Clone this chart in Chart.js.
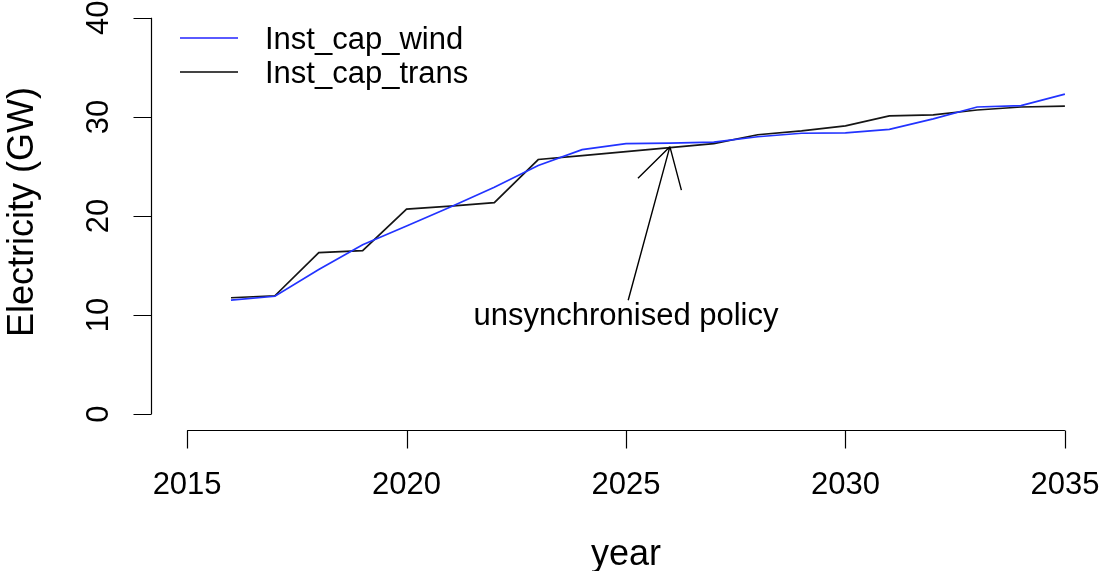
<!DOCTYPE html>
<html>
<head>
<meta charset="utf-8">
<title>Installed capacity: wind vs transmission</title>
<script src="https://cdn.jsdelivr.net/npm/chart.js@4.4.1/dist/chart.umd.min.js"></script>
<style>
  html, body { margin: 0; padding: 0; background: #ffffff; }
  #wrap { width: 1100px; height: 571px; }
</style>
</head>
<body>
<div id="wrap"><canvas id="chart" width="1100" height="571"></canvas></div>
<script>
// Years on the horizontal axis
const years = [2016, 2017, 2018, 2019, 2020, 2021, 2022, 2023, 2024, 2025,
               2026, 2027, 2028, 2029, 2030, 2031, 2032, 2033, 2034, 2035];

// Installed wind capacity (GW)
const instCapWind = [11.5, 11.9, 14.6, 17.1, 19.0, 20.9, 22.9, 25.1, 26.7, 27.3,
                     27.35, 27.45, 28.0, 28.35, 28.4, 28.75, 29.8, 31.0, 31.15, 32.3];

// Installed transmission capacity (GW)
const instCapTrans = [11.75, 11.95, 16.3, 16.5, 20.7, 21.0, 21.35, 25.7, 26.1, 26.5,
                      26.9, 27.3, 28.2, 28.6, 29.1, 30.1, 30.2, 30.7, 31.0, 31.1];

// Axis ticks
const xTicks = [2015, 2020, 2025, 2030, 2035];
const yTicks = [0, 10, 20, 30, 40];

// Series names
const seriesNames = ['Inst_cap_wind', 'Inst_cap_trans'];

// Annotation: label position and arrow (tail -> head) in data units
const noteText = 'unsynchronised policy';
const notePos = [2025, 10];
const arrowFrom = [2025.05, 11.5];
const arrowTo = [2026, 27.0];

const WIND_COLOR = '#2233ff';
const TRANS_COLOR = '#151515';
const FONT = '"Liberation Sans", Arial, Helvetica, sans-serif';

function toPoints(xs, ys) {
  return xs.map((x, i) => ({ x: x, y: ys[i] }));
}

// Base-graphics style axes, labels, legend and annotation
const baseStylePlugin = {
  id: 'baseStyle',
  afterDatasetsDraw(chart) {
    const ctx = chart.ctx;
    const xs = chart.scales.x;
    const ys = chart.scales.y;
    const area = chart.chartArea;

    ctx.save();
    ctx.strokeStyle = '#000000';
    ctx.fillStyle = '#000000';
    ctx.lineWidth = 1.2;

    // x axis
    const xAxisY = Math.round(area.bottom) + 0.5;
    const x0 = xs.getPixelForValue(xTicks[0]);
    const x1 = xs.getPixelForValue(xTicks[xTicks.length - 1]);
    ctx.beginPath();
    ctx.moveTo(x0, xAxisY);
    ctx.lineTo(x1, xAxisY);
    xTicks.forEach(t => {
      const px = Math.round(xs.getPixelForValue(t)) + 0.5;
      ctx.moveTo(px, xAxisY);
      ctx.lineTo(px, xAxisY + 18);
    });
    ctx.stroke();

    ctx.font = '31px ' + FONT;
    ctx.textAlign = 'center';
    ctx.textBaseline = 'alphabetic';
    xTicks.forEach(t => {
      ctx.fillText(String(t), xs.getPixelForValue(t), 494);
    });

    // y axis
    const yAxisX = Math.round(area.left) - 0.5;
    const yb = ys.getPixelForValue(yTicks[0]);
    const yt = ys.getPixelForValue(yTicks[yTicks.length - 1]);
    ctx.beginPath();
    ctx.moveTo(yAxisX, yb);
    ctx.lineTo(yAxisX, yt);
    yTicks.forEach(t => {
      const py = Math.round(ys.getPixelForValue(t)) + 0.5;
      ctx.moveTo(yAxisX, py);
      ctx.lineTo(yAxisX - 18, py);
    });
    ctx.stroke();

    yTicks.forEach(t => {
      ctx.save();
      ctx.translate(108, ys.getPixelForValue(t));
      ctx.rotate(-Math.PI / 2);
      ctx.textAlign = 'center';
      ctx.fillText(String(t), 0, 0);
      ctx.restore();
    });

    // axis titles
    ctx.font = '36px ' + FONT;
    ctx.textAlign = 'center';
    ctx.fillText('year', (area.left + area.right) / 2, 565);
    ctx.save();
    ctx.translate(33, (area.top + area.bottom) / 2 - 4);
    ctx.rotate(-Math.PI / 2);
    ctx.fillText('Electricity (GW)', 0, 0);
    ctx.restore();

    // legend
    const legendColors = ['#5a5aff', '#444444'];
    const legendY = [38, 72];
    ctx.font = '31px ' + FONT;
    ctx.textAlign = 'left';
    seriesNames.forEach((name, i) => {
      ctx.strokeStyle = legendColors[i];
      ctx.lineWidth = 1.8;
      ctx.beginPath();
      ctx.moveTo(180, legendY[i]);
      ctx.lineTo(238, legendY[i]);
      ctx.stroke();
      ctx.fillStyle = '#000000';
      ctx.fillText(name, 265, legendY[i] + 11);
    });

    // annotation arrow
    const ax0 = xs.getPixelForValue(arrowFrom[0]);
    const ay0 = ys.getPixelForValue(arrowFrom[1]);
    const ax1 = xs.getPixelForValue(arrowTo[0]);
    const ay1 = ys.getPixelForValue(arrowTo[1]);
    ctx.strokeStyle = '#000000';
    ctx.lineWidth = 1.4;
    ctx.beginPath();
    ctx.moveTo(ax0, ay0);
    ctx.lineTo(ax1, ay1);
    const ang = Math.atan2(ay0 - ay1, ax0 - ax1);
    const headLen = 45;
    const spread = Math.PI / 6;
    [ang - spread, ang + spread].forEach(a => {
      ctx.moveTo(ax1, ay1);
      ctx.lineTo(ax1 + headLen * Math.cos(a), ay1 + headLen * Math.sin(a));
    });
    ctx.stroke();

    // annotation label
    ctx.fillStyle = '#000000';
    ctx.font = '31px ' + FONT;
    ctx.textAlign = 'center';
    ctx.fillText(noteText, xs.getPixelForValue(notePos[0]), ys.getPixelForValue(notePos[1]) + 10);

    ctx.restore();
  }
};

new Chart(document.getElementById('chart'), {
  type: 'line',
  data: {
    datasets: [
      {
        label: seriesNames[0],
        data: toPoints(years, instCapWind),
        borderColor: WIND_COLOR,
        borderWidth: 1.7,
        pointRadius: 0,
        tension: 0,
        fill: false
      },
      {
        label: seriesNames[1],
        data: toPoints(years, instCapTrans),
        borderColor: TRANS_COLOR,
        borderWidth: 1.7,
        pointRadius: 0,
        tension: 0,
        fill: false
      }
    ]
  },
  options: {
    responsive: false,
    animation: false,
    events: [],
    layout: { padding: { left: 152, right: 0, top: 2, bottom: 141 } },
    plugins: {
      legend: { display: false },
      tooltip: { enabled: false }
    },
    scales: {
      x: { type: 'linear', min: 2014.2, max: 2035.8, display: false },
      y: { type: 'linear', min: -1.6, max: 41.6, display: false }
    }
  },
  plugins: [baseStylePlugin]
});
</script>
</body>
</html>
